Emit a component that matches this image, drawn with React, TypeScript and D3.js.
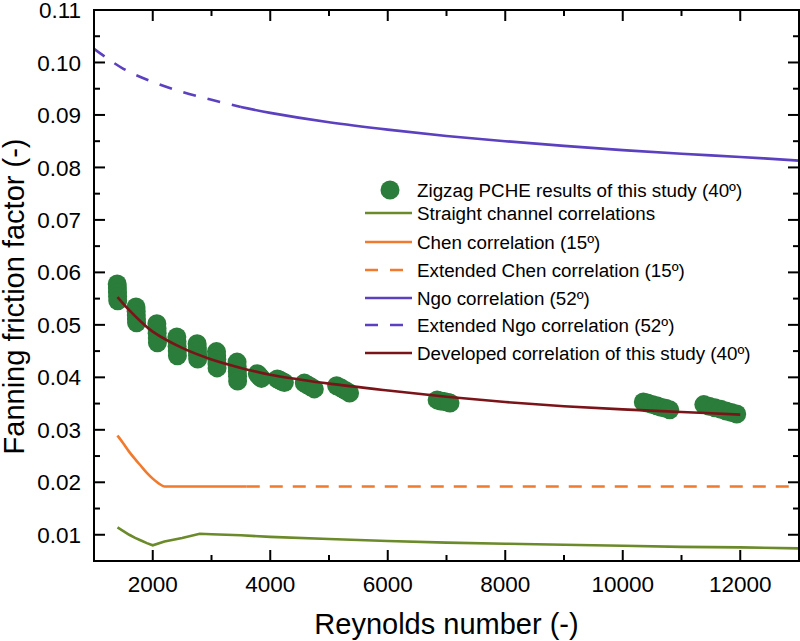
import { useEffect, useRef } from "react";
import * as d3 from "d3";

const WIDTH = 800;
const HEIGHT = 641;

// axis ticks
const xMajorTicks = [2000, 4000, 6000, 8000, 10000, 12000];
const xMinorTicks = [1000, 3000, 5000, 7000, 9000, 11000, 13000];
const yMajorTicks = [0.01, 0.02, 0.03, 0.04, 0.05, 0.06, 0.07, 0.08, 0.09, 0.1, 0.11];
const yMinorTicks = [0.005, 0.015, 0.025, 0.035, 0.045, 0.055, 0.065, 0.075, 0.085, 0.095, 0.105];

// Zigzag PCHE results (Re, f), cluster by cluster
const zigzagRe = [
  1395, 1398, 1400, 1402, 1404,
  1715, 1718, 1720, 1722, 1725,
  2070, 2073, 2075, 2078, 2080,
  2410, 2413, 2415, 2418, 2420,
  2755, 2758, 2760, 2763, 2765,
  3085, 3088, 3090, 3093, 3095,
  3435, 3438, 3440, 3443, 3445,
  3780, 3800, 3825, 3850,
  4120, 4160, 4200, 4240,
  4580, 4630, 4690, 4750,
  5130, 5200, 5280, 5350,
  6840, 6900, 6960, 7030, 7060,
  10350, 10420, 10500, 10580, 10650, 10730, 10800,
  11380, 11470, 11570, 11670, 11760, 11850, 11940,
];
const zigzagF = [
  0.0578, 0.057, 0.0562, 0.0554, 0.0546,
  0.0534, 0.0526, 0.0519, 0.0511, 0.0504,
  0.0502, 0.0493, 0.0484, 0.0475, 0.0466,
  0.0477, 0.0468, 0.0459, 0.045, 0.0441,
  0.0464, 0.0457, 0.045, 0.0442, 0.0435,
  0.0449, 0.0441, 0.0434, 0.0426, 0.0418,
  0.0429, 0.042, 0.0411, 0.0402, 0.0393,
  0.0407, 0.0404, 0.0401, 0.0398,
  0.0397, 0.0395, 0.0392, 0.039,
  0.0389, 0.0386, 0.0382, 0.0378,
  0.0384, 0.038, 0.0375, 0.037,
  0.0357, 0.0355, 0.0354, 0.0352, 0.0351,
  0.0353, 0.0351, 0.0348, 0.0346, 0.0343, 0.0341, 0.0338,
  0.0348, 0.0345, 0.0342, 0.0339, 0.0336, 0.0333, 0.033,
];

// straight channel correlations
const straightRe = [1400, 1500, 1600, 1700, 1800, 1900, 2000, 2200, 2500, 2800, 3000, 3500, 4000, 5000, 6000, 7000, 8000, 9000, 10000, 11000, 12000, 13000];
const straightF = [0.0114, 0.0107, 0.01, 0.0094, 0.0089, 0.0084, 0.008, 0.0087, 0.0094, 0.0102, 0.0101, 0.0099, 0.0096, 0.0092, 0.0088, 0.0085, 0.0083, 0.0081, 0.0079, 0.0077, 0.0076, 0.0074];

// Chen correlation (15°) and its extension
const chenRe = [1400, 1500, 1600, 1700, 1800, 1900, 2000, 2100, 2200, 3600];
const chenF = [0.0289, 0.0274, 0.0258, 0.0244, 0.0231, 0.0218, 0.0207, 0.0198, 0.0192, 0.0192];
const chenExtRe = [3600, 13000];
const chenExtF = [0.0192, 0.0192];

// Ngo correlation (52°) and its extension
const ngoExtRe = [1000, 1500, 2000, 2500, 3000, 3500];
const ngoExtF = [0.1026, 0.0988, 0.0963, 0.0944, 0.0929, 0.0915];
const ngoRe = [3500, 4000, 5000, 6000, 7000, 8000, 9000, 10000, 11000, 12000, 13000];
const ngoF = [0.0915, 0.0904, 0.0886, 0.0872, 0.086, 0.085, 0.0841, 0.0833, 0.0826, 0.082, 0.0813];

// developed correlation of this study (40°)
const devRe = [1400, 1600, 1800, 2000, 2500, 3000, 3500, 4000, 4500, 5000, 6000, 7000, 8000, 9000, 10000, 11000, 12000];
const devF = [0.0553, 0.0528, 0.0506, 0.0487, 0.0456, 0.0434, 0.0418, 0.0405, 0.0396, 0.0388, 0.0375, 0.0363, 0.0353, 0.0345, 0.0339, 0.0334, 0.0329];

const GREEN = "#2a7d3a";
const OLIVE = "#6b8a2a";
const ORANGE = "#f07a2e";
const PURPLE = "#5b40c0";
const DARK_RED = "#7a1418";

const legendItems = [
  { label: "Zigzag PCHE results of this study (40º)", kind: "dot", color: GREEN, dash: null },
  { label: "Straight channel correlations", kind: "line", color: OLIVE, dash: null },
  { label: "Chen correlation (15º)", kind: "line", color: ORANGE, dash: null },
  { label: "Extended Chen correlation (15º)", kind: "line", color: ORANGE, dash: "13,12" },
  { label: "Ngo correlation (52º)", kind: "line", color: PURPLE, dash: null },
  { label: "Extended Ngo correlation (52º)", kind: "line", color: PURPLE, dash: "13,12" },
  { label: "Developed correlation of this study (40º)", kind: "line", color: DARK_RED, dash: null },
];
const legendRowY = [190, 213, 242, 270, 298, 325, 353];

export default function App() {
  const svgRef = useRef<SVGSVGElement | null>(null);

  useEffect(() => {
    if (!svgRef.current) return;
    const svg = d3.select(svgRef.current);
    svg.selectAll("*").remove();

    const left = 94;
    const right = 799;
    const top = 10;
    const bottom = 561;

    const x = d3.scaleLinear().domain([1000, 13000]).range([left, right]);
    const y = d3.scaleLinear().domain([0.005, 0.11]).range([bottom, top]);

    const font = "'Liberation Sans', Arial, sans-serif";

    svg
      .append("defs")
      .append("clipPath")
      .attr("id", "plot-clip")
      .append("rect")
      .attr("x", left)
      .attr("y", top)
      .attr("width", right - left)
      .attr("height", bottom - top);

    const plot = svg.append("g").attr("clip-path", "url(#plot-clip)");

    // data dots first, correlations drawn over them
    plot
      .selectAll("circle.pt")
      .data(zigzagRe.map((re, i) => [re, zigzagF[i]]))
      .join("circle")
      .attr("class", "pt")
      .attr("cx", (d) => x(d[0]))
      .attr("cy", (d) => y(d[1]))
      .attr("r", 9.5)
      .attr("fill", GREEN);

    const line = d3
      .line<number[]>()
      .x((d) => x(d[0]))
      .y((d) => y(d[1]));

    const drawSeries = (xs: number[], ys: number[], color: string, dash: string | null, curve: any) => {
      plot
        .append("path")
        .datum(xs.map((v, i) => [v, ys[i]]))
        .attr("d", line.curve(curve))
        .attr("fill", "none")
        .attr("stroke", color)
        .attr("stroke-width", 2.6)
        .attr("stroke-dasharray", dash);
    };

    drawSeries(straightRe, straightF, OLIVE, null, d3.curveLinear);
    drawSeries(chenRe, chenF, ORANGE, null, d3.curveMonotoneX);
    drawSeries(chenExtRe, chenExtF, ORANGE, "13,10", d3.curveLinear);
    drawSeries(ngoExtRe, ngoExtF, PURPLE, "13,12", d3.curveCatmullRom);
    drawSeries(ngoRe, ngoF, PURPLE, null, d3.curveCatmullRom);
    drawSeries(devRe, devF, DARK_RED, null, d3.curveCatmullRom);

    // frame and inward ticks
    const axes = svg.append("g").attr("stroke", "#000").attr("stroke-width", 2);
    axes
      .append("rect")
      .attr("x", left)
      .attr("y", top)
      .attr("width", right - left)
      .attr("height", bottom - top)
      .attr("fill", "none");

    const tickLen = (major: boolean) => (major ? 11 : 6);
    const xTicks = [
      ...xMajorTicks.map((v) => ({ v, major: true })),
      ...xMinorTicks.map((v) => ({ v, major: false })),
    ];
    const yTicks = [
      ...yMajorTicks.map((v) => ({ v, major: true })),
      ...yMinorTicks.map((v) => ({ v, major: false })),
    ];

    xTicks.forEach((t) => {
      axes.append("line").attr("x1", x(t.v)).attr("x2", x(t.v)).attr("y1", bottom).attr("y2", bottom - tickLen(t.major));
      axes.append("line").attr("x1", x(t.v)).attr("x2", x(t.v)).attr("y1", top).attr("y2", top + tickLen(t.major));
    });
    yTicks.forEach((t) => {
      axes.append("line").attr("x1", left).attr("x2", left + tickLen(t.major)).attr("y1", y(t.v)).attr("y2", y(t.v));
      axes.append("line").attr("x1", right).attr("x2", right - tickLen(t.major)).attr("y1", y(t.v)).attr("y2", y(t.v));
    });

    // tick labels
    svg
      .append("g")
      .selectAll("text")
      .data(xMajorTicks)
      .join("text")
      .attr("x", (d) => x(d))
      .attr("y", 592)
      .attr("text-anchor", "middle")
      .attr("font-family", font)
      .attr("font-size", 22.5)
      .text((d) => String(d));

    svg
      .append("g")
      .selectAll("text")
      .data(yMajorTicks)
      .join("text")
      .attr("x", 81)
      .attr("y", (d) => y(d))
      .attr("dy", "0.36em")
      .attr("text-anchor", "end")
      .attr("font-family", font)
      .attr("font-size", 22.5)
      .text((d) => d3.format(".2f")(d));

    // axis titles
    svg
      .append("text")
      .attr("x", (left + right) / 2)
      .attr("y", 634)
      .attr("text-anchor", "middle")
      .attr("font-family", font)
      .attr("font-size", 29)
      .text("Reynolds number (-)");

    svg
      .append("text")
      .attr("transform", `translate(24,${(top + bottom) / 2 + 11}) rotate(-90)`)
      .attr("text-anchor", "middle")
      .attr("font-family", font)
      .attr("font-size", 29)
      .text("Fanning friction factor (-)");

    // legend
    const legend = svg.append("g");
    legendItems.forEach((item, i) => {
      const ly = legendRowY[i];
      if (item.kind === "dot") {
        legend.append("circle").attr("cx", 390).attr("cy", ly).attr("r", 9.5).attr("fill", item.color);
      } else {
        legend
          .append("line")
          .attr("x1", 365)
          .attr("x2", 412)
          .attr("y1", ly)
          .attr("y2", ly)
          .attr("stroke", item.color)
          .attr("stroke-width", 2.6)
          .attr("stroke-dasharray", item.dash);
      }
      legend
        .append("text")
        .attr("x", 417)
        .attr("y", ly)
        .attr("dy", "0.36em")
        .attr("font-family", font)
        .attr("font-size", 18.8)
        .text(item.label);
    });
  }, []);

  return (
    <svg
      ref={svgRef}
      width={WIDTH}
      height={HEIGHT}
      style={{ position: "absolute", left: 0, top: 0, background: "#fff" }}
    />
  );
}
